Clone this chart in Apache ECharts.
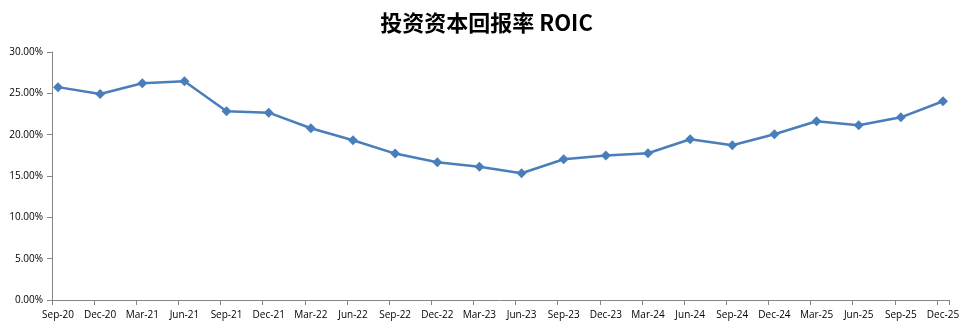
<!DOCTYPE html>
<html><head><meta charset="utf-8">
<script src="https://cdn.jsdelivr.net/npm/echarts@6/dist/echarts.min.js"></script>
<style>html,body{margin:0;padding:0;background:#fff}#c{width:973px;height:329px}</style>
</head><body><div id="c"></div>
<script>
const categories = ['Sep-20','Dec-20','Mar-21','Jun-21','Sep-21','Dec-21','Mar-22','Jun-22','Sep-22','Dec-22','Mar-23','Jun-23','Sep-23','Dec-23','Mar-24','Jun-24','Sep-24','Dec-24','Mar-25','Jun-25','Sep-25','Dec-25'];
const roic = [0.2575,0.2492,0.2622,0.2645,0.2283,0.2266,0.2078,0.1932,0.1771,0.1666,0.1613,0.1533,0.1702,0.1748,0.1775,0.1944,0.1872,0.2005,0.2162,0.2114,0.2210,0.2404];
const yTicks = [0, 0.05, 0.10, 0.15, 0.20, 0.25, 0.30];

const font = 'Open Sans, sans-serif';
const axisColor = '#868686';
const chart = echarts.init(document.getElementById('c'));
chart.setOption({
  animation: false,
  title: {
    text: '投资资本回报率 ROIC', left: 'center', top: 7,
    textStyle: {fontFamily: 'Noto Sans CJK SC', fontWeight: 'bold', fontSize: 22, color: '#000'}
  },
  grid: [
    {left: 52, right: 24, top: 52, bottom: 29, containLabel: false},
    {left: 58, right: 30, top: 52, bottom: 29, containLabel: false}
  ],
  xAxis: [
    {type: 'value', gridIndex: 0, min: 0, max: 21.285, interval: 1,
     axisLine: {show: true, lineStyle: {color: axisColor, width: 1}},
     axisTick: {show: true, length: 5, lineStyle: {color: axisColor}},
     axisLabel: {show: false}, splitLine: {show: false}},
    {type: 'category', gridIndex: 1, data: categories, boundaryGap: false,
     axisLine: {show: false}, axisTick: {show: false}, splitLine: {show: false},
     axisLabel: {interval: 0, margin: 10, fontFamily: font, fontSize: 10, color: '#000'}}
  ],
  yAxis: [
    {type: 'value', gridIndex: 0, min: 0, max: 0.30, interval: 0.05,
     axisLine: {show: true, lineStyle: {color: axisColor, width: 1}},
     axisTick: {show: true, length: 5, lineStyle: {color: axisColor}},
     splitLine: {show: false},
     axisLabel: {margin: 9, fontFamily: font, fontSize: 10, color: '#000',
       formatter: v => (v * 100).toFixed(2) + '%'}},
    {type: 'value', gridIndex: 1, min: 0, max: 0.30, interval: 0.05, show: false}
  ],
  series: [{
    type: 'line', xAxisIndex: 1, yAxisIndex: 1, data: roic,
    symbol: 'diamond', symbolSize: [10, 10], showAllSymbol: true,
    lineStyle: {color: '#4a7ebb', width: 2.5},
    itemStyle: {color: '#4a7ebb'}
  }]
});
</script></body></html>
